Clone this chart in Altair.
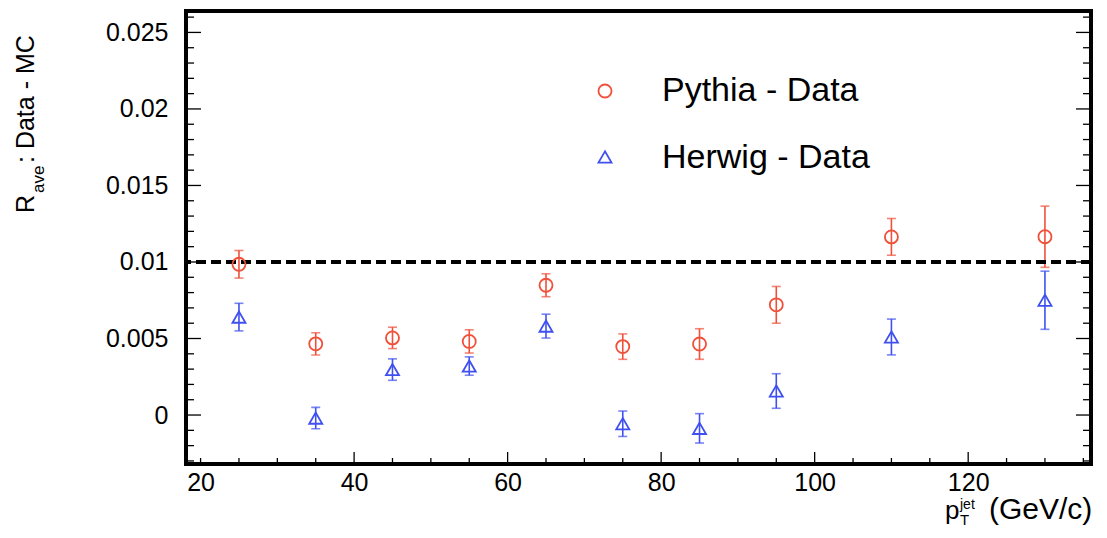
import altair as alt
import pandas as pd

# Jet pT bin centres (GeV/c)
pt = [25, 35, 45, 55, 65, 75, 85, 95, 110, 130]

# R_ave difference, Pythia - Data
pythia = [0.00985, 0.00465, 0.00504, 0.00481, 0.00848, 0.00447, 0.00464, 0.0072, 0.01164, 0.01165]
pythia_err = [0.0009, 0.00073, 0.0007, 0.00076, 0.00075, 0.00083, 0.001, 0.0012, 0.0012, 0.002]

# R_ave difference, Herwig - Data
herwig = [0.0064, -0.0002, 0.00297, 0.0032, 0.00581, -0.00057, -0.00087, 0.00157, 0.0051, 0.0075]
herwig_err = [0.0009, 0.0007, 0.0007, 0.0006, 0.00078, 0.00083, 0.00096, 0.00113, 0.00117, 0.0019]

reference_level = 0.01

# axis ticks
x_labels = [20, 40, 60, 80, 100, 120]
x_major = [40, 60, 80, 100, 120]
x_minor = [20, 25, 30, 35, 45, 50, 55, 65, 70, 75, 85, 90, 95, 105, 110, 115, 125, 130, 135]
y_major = [0, 0.005, 0.01, 0.015, 0.02, 0.025]
y_minor = [-0.003, -0.002, -0.001, 0.001, 0.002, 0.003, 0.004, 0.006, 0.007, 0.008, 0.009,
           0.011, 0.012, 0.013, 0.014, 0.016, 0.017, 0.018, 0.019, 0.021, 0.022, 0.023, 0.024, 0.026]

W, H = 905, 453
FONT = "Liberation Sans"
RED = "#f0503a"
BLUE = "#4050f0"

xs = alt.Scale(domain=[18.1, 136], nice=False, zero=False)
ys = alt.Scale(domain=[-0.0032, 0.0264], nice=False, zero=False)

rows = []
for i, p in enumerate(pt):
    rows.append({"pt": p, "val": pythia[i], "lo": pythia[i] - pythia_err[i],
                 "hi": pythia[i] + pythia_err[i], "gen": "Pythia - Data"})
    rows.append({"pt": p, "val": herwig[i], "lo": herwig[i] - herwig_err[i],
                 "hi": herwig[i] + herwig_err[i], "gen": "Herwig - Data"})
df = pd.DataFrame(rows)

xaxis = alt.Axis(values=x_labels, labelFont=FONT, labelFontSize=25, labelColor="black",
                 tickSize=0, domain=False, grid=False, labelPadding=6, title=None,
                 labelFlush=False, labelOverlap=False)
yaxis = alt.Axis(values=y_major, format="~g", labelFont=FONT, labelFontSize=25,
                 labelColor="black", tickSize=0, domain=False, grid=False,
                 labelPadding=18, title=None, labelOverlap=False)


# every layer shares one scale and one identical axis definition per channel
def X(field):
    return alt.X(field, scale=xs, axis=xaxis)


def Y(field):
    return alt.Y(field, scale=ys, axis=yaxis)


color = alt.Color("gen:N", scale=alt.Scale(domain=["Pythia - Data", "Herwig - Data"],
                                             range=[RED, BLUE]), legend=None)
shape = alt.Shape("gen:N", scale=alt.Scale(domain=["Pythia - Data", "Herwig - Data"],
                                             range=["circle", "triangle-up"]), legend=None)

base = alt.Chart(df)

bars = base.mark_rule(strokeWidth=1.6).encode(
    x=X("pt:Q"), y=Y("lo:Q"), y2="hi:Q", color=color)
caps_lo = base.mark_tick(orient="horizontal", size=9, thickness=1.6).encode(
    x=X("pt:Q"), y=Y("lo:Q"), color=color)
caps_hi = base.mark_tick(orient="horizontal", size=9, thickness=1.6).encode(
    x=X("pt:Q"), y=Y("hi:Q"), color=color)
points = base.mark_point(filled=False, size=170, strokeWidth=1.8, opacity=1).encode(
    x=X("pt:Q"), y=Y("val:Q"), color=color, shape=shape)

dashed = alt.Chart(pd.DataFrame({"r": [reference_level]})).mark_rule(
    color="black", strokeWidth=4, strokeDash=[10, 5]).encode(y=Y("r:Q"))


def yticks(values, length):
    d = alt.Chart(pd.DataFrame({"v": values}))
    left = d.mark_rule(color="black", strokeWidth=1.3).encode(
        y=Y("v:Q"), x=alt.value(0), x2=alt.value(length))
    right = d.mark_rule(color="black", strokeWidth=1.3).encode(
        y=Y("v:Q"), x=alt.value(W - length), x2=alt.value(W))
    return [left, right]


def xticks(values, length):
    d = alt.Chart(pd.DataFrame({"v": values}))
    return [d.mark_rule(color="black", strokeWidth=1.3).encode(
        x=X("v:Q"), y=alt.value(H - length), y2=alt.value(H))]


def label(txt, x, y, size, angle=0, color="black", align="left", baseline="alphabetic"):
    return alt.Chart(pd.DataFrame({"t": [txt]})).mark_text(
        font=FONT, fontSize=size, color=color, align=align, baseline=baseline,
        angle=angle).encode(text="t:N", x=alt.value(x), y=alt.value(y))


def legend_marker(shape_name, col, x, y):
    return alt.Chart(pd.DataFrame({"s": [shape_name]})).mark_point(
        filled=False, size=170, strokeWidth=1.8, color=col, shape=shape_name,
        opacity=1).encode(x=alt.value(x), y=alt.value(y))


layers = ([bars] + yticks(y_major, 15) + yticks(y_minor, 8) + xticks(x_major, 12)
          + xticks(x_minor, 6)
          + [dashed, caps_lo, caps_hi, points,
             legend_marker("circle", RED, 419, 80),
             legend_marker("triangle-up", BLUE, 419, 146),
             label("Pythia - Data", 476, 80, 34, baseline="middle"),
             label("Herwig - Data", 476, 147, 34, baseline="middle"),
             # x-axis title: p_T^jet (GeV/c)
             label("p", 759, 508, 26),
             label("T", 774, 514, 15),
             label("jet", 774, 498, 14),
             label("(GeV/c)", 803, 508, 30),
             # y-axis title: R_ave: Data - MC
             label("R", -152, 202, 25, angle=270),
             label("ave", -142, 182, 17, angle=270),
             label(": Data - MC", -152, 152, 25, angle=270)])

chart = alt.layer(*layers).properties(
    width=W, height=H,
    autosize=alt.AutoSizeParams(type="none"),
    padding={"left": 186, "top": 11, "right": 16, "bottom": 74},
    background="white",
).configure_view(stroke="black", strokeWidth=4)

chart.save("out.html", embed_options={"renderer": "svg", "actions": False})
